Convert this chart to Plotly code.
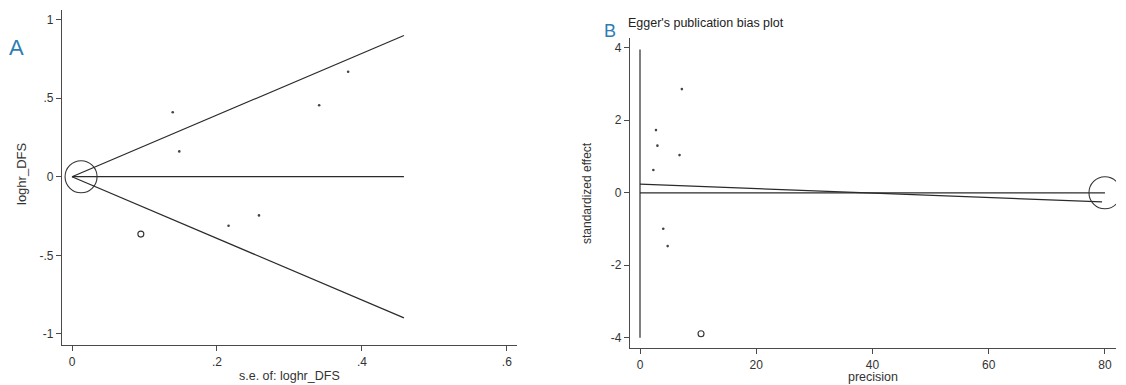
import numpy as np
import plotly.graph_objects as go

W, H = 1126, 385

# ---------- Panel A: funnel plot ----------
se_A = [0.139, 0.148, 0.216, 0.258, 0.341, 0.381]
loghr_A = [0.410, 0.161, -0.312, -0.246, 0.454, 0.667]
se_A_open = [0.095]
loghr_A_open = [-0.365]
pooled_loghr = 0.0
pooled_se = 0.0125
funnel_se_max = 0.458

xticks_A = [0, 0.2, 0.4, 0.6]
xticklabels_A = ["0", ".2", ".4", ".6"]
yticks_A = [1, 0.5, 0, -0.5, -1]
yticklabels_A = ["1", ".5", "0", "-.5", "-1"]

# ---------- Panel B: Egger's plot ----------
precision_B = [2.3, 2.75, 3.0, 7.2, 6.8, 4.0, 4.76]
std_effect_B = [0.63, 1.73, 1.30, 2.86, 1.04, -0.99, -1.47]
precision_B_open = [10.5]
std_effect_B_open = [-3.89]
egger_intercept = 0.24
egger_slope = -0.0062
egger_line_end = 79.5
intercept_ci = [-4.0, 3.95]
pooled_precision = 80.0
pooled_std_effect = 0.0

xticks_B = [0, 20, 40, 60, 80]
xticklabels_B = ["0", "20", "40", "60", "80"]
yticks_B = [4, 2, 0, -2, -4]
yticklabels_B = ["4", "2", "0", "-2", "-4"]

LINE = "#2b2b2b"
AX = "#4a4a4a"
FONT = "Liberation Sans, Arial, sans-serif"

fig = go.Figure()

# Panel A traces
se_line = np.array([0.0, funnel_se_max])
fig.add_trace(go.Scatter(x=se_line, y=pooled_loghr + 1.96 * se_line, mode="lines",
                         line=dict(color=LINE, width=1.2), xaxis="x", yaxis="y", showlegend=False))
fig.add_trace(go.Scatter(x=se_line, y=pooled_loghr - 1.96 * se_line, mode="lines",
                         line=dict(color=LINE, width=1.2), xaxis="x", yaxis="y", showlegend=False))
fig.add_trace(go.Scatter(x=se_line, y=[pooled_loghr, pooled_loghr], mode="lines",
                         line=dict(color=LINE, width=1.2), xaxis="x", yaxis="y", showlegend=False))
fig.add_trace(go.Scatter(x=se_A, y=loghr_A, mode="markers",
                         marker=dict(color="#444", size=2.6), xaxis="x", yaxis="y", showlegend=False))
fig.add_trace(go.Scatter(x=se_A_open, y=loghr_A_open, mode="markers",
                         marker=dict(symbol="circle-open", color="#333", size=6, line=dict(width=1.1)),
                         xaxis="x", yaxis="y", showlegend=False))
fig.add_trace(go.Scatter(x=[pooled_se], y=[pooled_loghr], mode="markers",
                         marker=dict(symbol="circle-open", color="#333", size=32, line=dict(width=1.1)),
                         xaxis="x", yaxis="y", showlegend=False))

# Panel B traces
prec_line = np.array([0.0, egger_line_end])
fig.add_trace(go.Scatter(x=[0, 0], y=intercept_ci, mode="lines",
                         line=dict(color=LINE, width=1.2), xaxis="x2", yaxis="y2", showlegend=False))
fig.add_trace(go.Scatter(x=[0, pooled_precision], y=[0, 0], mode="lines",
                         line=dict(color=LINE, width=1.2), xaxis="x2", yaxis="y2", showlegend=False))
fig.add_trace(go.Scatter(x=prec_line, y=egger_intercept + egger_slope * prec_line, mode="lines",
                         line=dict(color=LINE, width=1.2), xaxis="x2", yaxis="y2", showlegend=False))
fig.add_trace(go.Scatter(x=precision_B, y=std_effect_B, mode="markers",
                         marker=dict(color="#444", size=2.6), xaxis="x2", yaxis="y2", showlegend=False))
fig.add_trace(go.Scatter(x=precision_B_open, y=std_effect_B_open, mode="markers",
                         marker=dict(symbol="circle-open", color="#333", size=6, line=dict(width=1.1)),
                         xaxis="x2", yaxis="y2", showlegend=False))
fig.add_trace(go.Scatter(x=[pooled_precision], y=[pooled_std_effect], mode="markers",
                         marker=dict(symbol="circle-open", color="#333", size=32, line=dict(width=1.1)),
                         xaxis="x2", yaxis="y2", showlegend=False))

axis_common = dict(showgrid=False, zeroline=False, showline=True, linecolor=AX, linewidth=1.3,
                   ticks="outside", ticklen=5, tickcolor=AX, tickwidth=1.2,
                   tickfont=dict(family=FONT, size=12, color="#333"), tickmode="array")

fig.update_layout(
    width=W, height=H, margin=dict(l=0, r=0, t=0, b=0),
    paper_bgcolor="white", plot_bgcolor="white",
    font=dict(family=FONT, color="#333"),
    xaxis=dict(domain=[62 / W, 517 / W], range=[-0.0138, 0.614], anchor="y",
               tickvals=xticks_A, ticktext=xticklabels_A, **axis_common),
    yaxis=dict(domain=[1 - 345 / H, 1 - 10 / H], range=[-1.07, 1.06], anchor="x",
               tickvals=yticks_A, ticktext=yticklabels_A, **axis_common),
    xaxis2=dict(domain=[630 / W, 1116 / W], range=[-1.72, 81.9], anchor="y2",
                tickvals=xticks_B, ticktext=xticklabels_B, **axis_common),
    yaxis2=dict(domain=[1 - 348.3 / H, 1 - 38 / H], range=[-4.29, 4.27], anchor="x2",
                tickvals=yticks_B, ticktext=yticklabels_B, **axis_common),
)

ann = [
    dict(text="A", x=16 / W, y=1 - 47 / H, font=dict(size=22, color="#2d7db3", family=FONT)),
    dict(text="B", x=610 / W, y=1 - 31 / H, font=dict(size=18, color="#2d7db3", family=FONT)),
    dict(text="Egger's publication bias plot", x=706 / W, y=1 - 23 / H,
         font=dict(size=12.5, color="#222", family=FONT)),
    dict(text="s.e. of: loghr_DFS", x=289.5 / W, y=1 - 376 / H,
         font=dict(size=12.5, color="#333", family=FONT)),
    dict(text="precision", x=873 / W, y=1 - 377 / H,
         font=dict(size=12.5, color="#333", family=FONT)),
    dict(text="loghr_DFS", x=22 / W, y=1 - 174 / H, textangle=-90,
         font=dict(size=13, color="#333", family=FONT)),
    dict(text="standardized effect", x=587 / W, y=1 - 193 / H, textangle=-90,
         font=dict(size=12, color="#333", family=FONT)),
]
for a in ann:
    a.update(xref="paper", yref="paper", showarrow=False, xanchor="center", yanchor="middle")
fig.update_layout(annotations=ann)

fig.write_html("out.html")
